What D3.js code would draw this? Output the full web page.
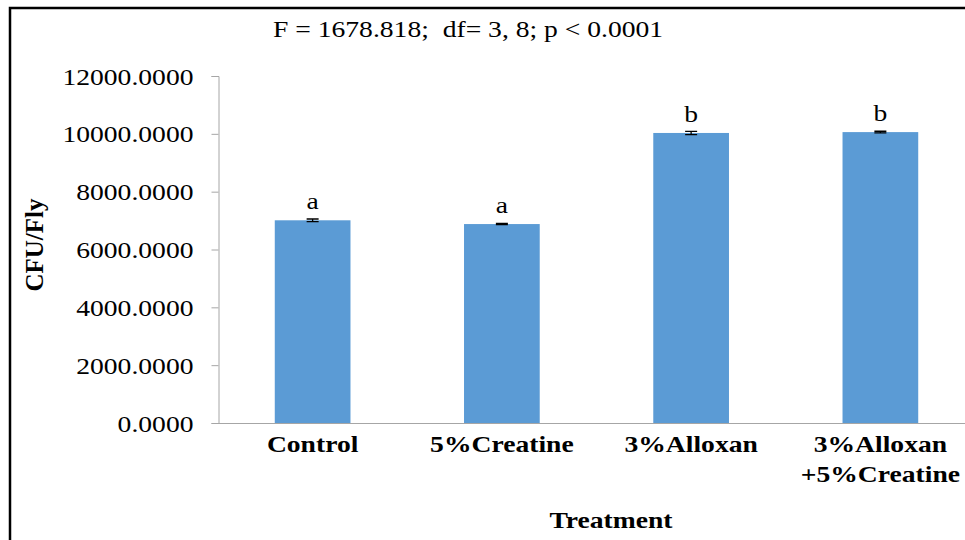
<!DOCTYPE html>
<html>
<head>
<meta charset="utf-8">
<script src="https://cdn.jsdelivr.net/npm/d3@7"></script>
<style>
  body { margin: 0; background: #fff; }
  svg { display: block; font-family: "Liberation Serif", "Times New Roman", serif; }
</style>
</head>
<body>
<div id="chart"></div>
<script>
// data
const treatments = ["Control", "5%Creatine", "3%Alloxan", "3%Alloxan\n+5%Creatine"];
const cfuMeans = [7010, 6880, 10030, 10060];
const cfuErrors = [45, 20, 55, 30];
const groupLetters = ["a", "a", "b", "b"];
const yTicks = [0, 2000, 4000, 6000, 8000, 10000, 12000];
const statsLine = "F = 1678.818;  df= 3, 8; p < 0.0001";

const width = 965,
      height = 540,
      margin = ({ top: 76, right: -10, bottom: 117, left: 218 });

const SX = 1.15; // the original picture is stretched sideways a little
const axisGray = "#a6a6a6";
const serif = "Liberation Serif, Times New Roman, serif";

let svg = d3.select("#chart")
    .append("svg")
    .attr("width", width)
    .attr("height", height)
    .attr("font-family", serif);

// frame of the cropped picture (only top and left edge show)
svg.append("path")
    .attr("d", `M10,${height} V8 H${width}`)
    .attr("fill", "none")
    .attr("stroke", "#000")
    .attr("stroke-width", 2.5);

let x = d3.scaleBand()
    .domain(treatments)
    .range([margin.left, width - margin.right])
    .paddingInner(0.6)
    .paddingOuter(0.3);

let y = d3.scaleLinear()
    .domain([0, 12000])
    .range([height - margin.bottom, margin.top]);

// y axis
let yAxis = svg.append("g")
    .attr("transform", `translate(${margin.left + 0.5},0)`)
    .call(d3.axisLeft(y).tickValues(yTicks).tickSize(7).tickPadding(25)
        .tickFormat(d => d3.format(".4f")(d)))
    .attr("font-family", serif)
    .attr("font-size", 24);
yAxis.select(".domain").attr("stroke", axisGray);
yAxis.selectAll(".tick line").attr("stroke", axisGray);
yAxis.selectAll(".tick text")
    .attr("x", null)
    .attr("dy", "0.34em")
    .attr("transform", `translate(-25,0) scale(${SX},1)`)
    .attr("fill", "#000");

// x axis line
svg.append("line")
    .attr("x1", margin.left)
    .attr("x2", width)
    .attr("y1", y(0) + 0.5)
    .attr("y2", y(0) + 0.5)
    .attr("stroke", axisGray);

// bars
let bar = svg.selectAll(".bar")
    .data(treatments)
    .join("g")
    .attr("class", "bar");

bar.append("rect")
    .attr("fill", "#5b9bd5")
    .attr("x", d => x(d))
    .attr("width", x.bandwidth())
    .attr("y", (d, i) => y(cfuMeans[i]))
    .attr("height", (d, i) => y(0) - y(cfuMeans[i]));

// error bars
let cx = d => x(d) + x.bandwidth() / 2;
bar.append("path")
    .attr("d", (d, i) => {
        let top = y(cfuMeans[i] + cfuErrors[i]), bot = y(cfuMeans[i] - cfuErrors[i]);
        return `M${cx(d)},${top} V${bot} M${cx(d) - 6},${top} H${cx(d) + 6} M${cx(d) - 6},${bot} H${cx(d) + 6}`;
    })
    .attr("stroke", "#000")
    .attr("stroke-width", 1.3)
    .attr("fill", "none");

// significance letters
bar.append("text")
    .text((d, i) => groupLetters[i])
    .attr("transform", (d, i) => `translate(${cx(d)},${y(cfuMeans[i]) - 11}) scale(${SX},1)`)
    .attr("text-anchor", "middle")
    .style("font-size", "24px");

// category labels, split on line breaks
bar.append("text")
    .attr("transform", d => `translate(${cx(d)},452) scale(${SX},1)`)
    .attr("text-anchor", "middle")
    .style("font-size", "24px")
    .style("font-weight", "bold")
    .selectAll("tspan")
    .data(d => d.split("\n"))
    .join("tspan")
    .attr("x", 0)
    .attr("dy", (d, i) => i ? 30 : 0)
    .text(d => d);

// stats line on top
svg.append("text")
    .text(statsLine)
    .attr("transform", `translate(273,37) scale(${SX},1)`)
    .style("font-size", "24px")
    .style("white-space", "pre");

// axis titles
svg.append("text")
    .text("Treatment")
    .attr("transform", `translate(611,528) scale(${SX},1)`)
    .attr("text-anchor", "middle")
    .style("font-size", "24px")
    .style("font-weight", "bold");

svg.append("text")
    .text("CFU/Fly")
    .attr("transform", "translate(43,245) rotate(-90)")
    .attr("text-anchor", "middle")
    .style("font-size", "25px")
    .style("font-weight", "bold");
</script>
</body>
</html>
